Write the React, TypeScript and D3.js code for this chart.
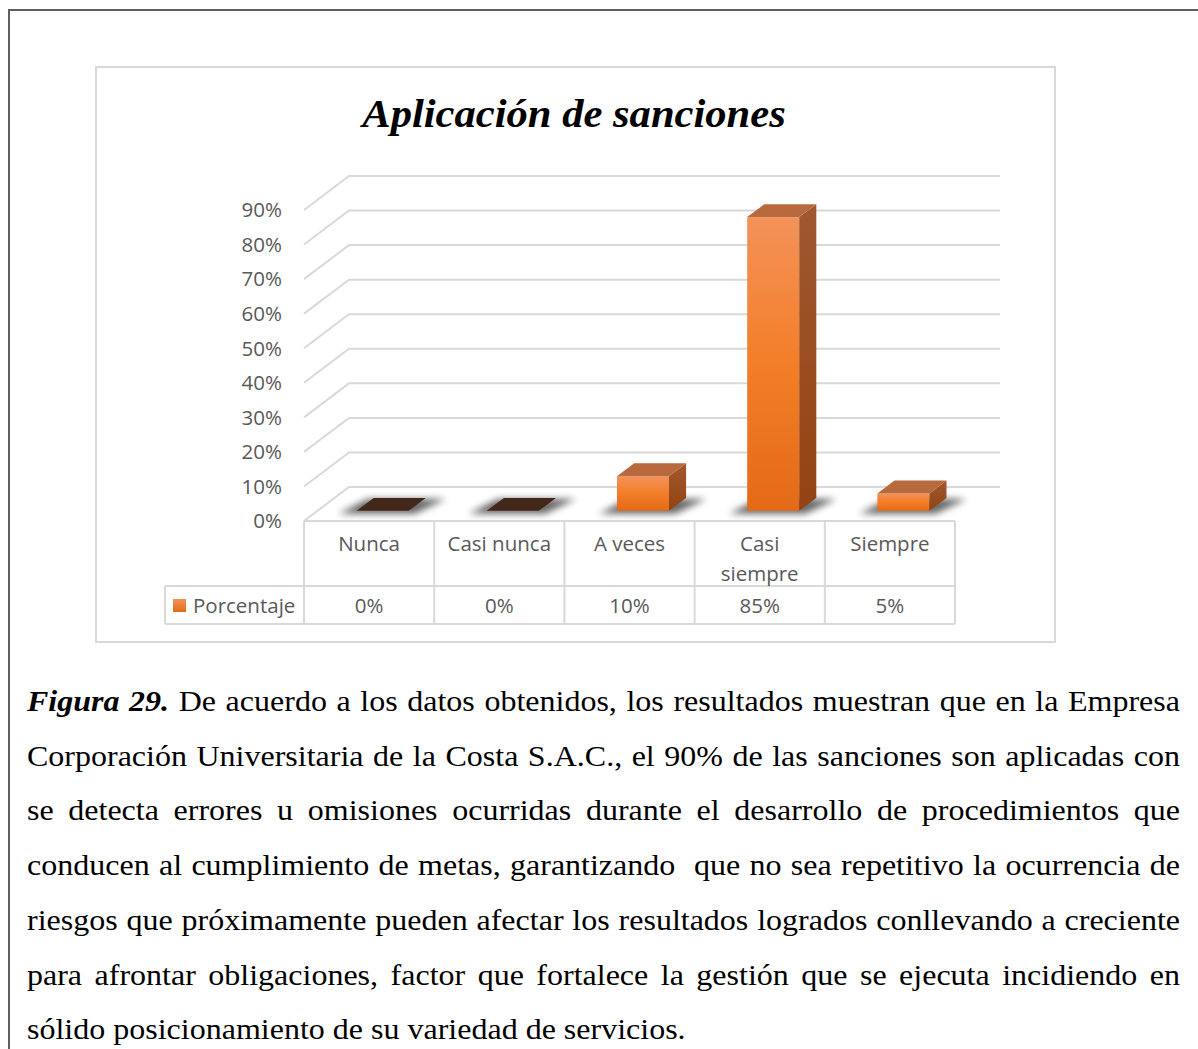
import { useEffect, useRef } from 'react';
import * as d3 from 'd3';

const W = 1198;
const H = 1049;

const CATEGORIES = ['Nunca', 'Casi nunca', 'A veces', 'Casi siempre', 'Siempre'];
const CATEGORY_LINES = [['Nunca'], ['Casi nunca'], ['A veces'], ['Casi', 'siempre'], ['Siempre']];
const PERCENTAGES = [0, 0, 0.1, 0.85, 0.05];
const VALUE_LABELS = ['0%', '0%', '10%', '85%', '5%'];
const Y_TICKS = [0, 0.1, 0.2, 0.3, 0.4, 0.5, 0.6, 0.7, 0.8, 0.9];
const SERIES_NAME = 'Porcentaje';
const TITLE = 'Aplicación de sanciones';
const CAPTION_LEAD = 'Figura 29.';
const CAPTION_LINES = [
  ' De acuerdo a los datos obtenidos, los resultados muestran que en la Empresa',
  'Corporación Universitaria de la Costa S.A.C., el 90% de las sanciones son aplicadas con',
  'se detecta errores u omisiones ocurridas durante el desarrollo de procedimientos que',
  'conducen al cumplimiento de metas, garantizando  que no sea repetitivo la ocurrencia de',
  'riesgos que próximamente pueden afectar los resultados logrados conllevando a creciente',
  'para afrontar obligaciones, factor que fortalece la gestión que se ejecuta incidiendo en',
  'sólido posicionamiento de su variedad de servicios.',
];

const SANS = '"Open Sans", "Noto Sans", sans-serif';
const SERIF = '"Liberation Serif", "DejaVu Serif", serif';
const GRID = '#d9d9d9';
const LABEL = '#595959';

export default function App() {
  const svgRef = useRef<SVGSVGElement>(null);

  useEffect(() => {
    const svg = d3.select(svgRef.current!);
    svg.selectAll('*').remove();

    // outer page frame + chart area
    svg.append('path').attr('d', `M9,${H} V10 H${W}`).attr('fill', 'none').attr('stroke', '#5f5f5f').attr('stroke-width', 2);
    svg.append('rect').attr('x', 96).attr('y', 67).attr('width', 959).attr('height', 575)
      .attr('fill', '#fff').attr('stroke', GRID).attr('stroke-width', 2);

    const defs = svg.append('defs');
    const front = defs.append('linearGradient').attr('id', 'barFront').attr('x1', 0).attr('y1', 0).attr('x2', 0).attr('y2', 1);
    front.append('stop').attr('offset', '0%').attr('stop-color', '#F39259');
    front.append('stop').attr('offset', '50%').attr('stop-color', '#F47E28');
    front.append('stop').attr('offset', '100%').attr('stop-color', '#E36A17');
    const side = defs.append('linearGradient').attr('id', 'barSide').attr('x1', 0).attr('y1', 0).attr('x2', 0).attr('y2', 1);
    side.append('stop').attr('offset', '0%').attr('stop-color', '#A0582F');
    side.append('stop').attr('offset', '100%').attr('stop-color', '#934312');
    const legendGrad = defs.append('linearGradient').attr('id', 'legendSq').attr('x1', 0).attr('y1', 0).attr('x2', 0).attr('y2', 1);
    legendGrad.append('stop').attr('offset', '0%').attr('stop-color', '#F39259');
    legendGrad.append('stop').attr('offset', '100%').attr('stop-color', '#E36A17');
    defs.append('filter').attr('id', 'soft').attr('x', '-50%').attr('y', '-100%').attr('width', '200%').attr('height', '300%')
      .append('feGaussianBlur').attr('stdDeviation', 3.5);

    // title (the source image is a little wider than the font)
    svg.append('text').attr('transform', 'translate(574,127) scale(1.065,1)').attr('text-anchor', 'middle')
      .attr('font-family', SERIF).attr('font-size', 40).attr('font-weight', 700).attr('font-style', 'italic')
      .attr('fill', '#000').text(TITLE);

    const x = d3.scaleBand<string>().domain(CATEGORIES).range([304, 955]);
    const y = d3.scaleLinear().domain([0, 0.9]).range([521, 210]);
    const depth = { dx: 45, dy: 34 };

    // 3D wall gridlines
    const wall = svg.append('g');
    Y_TICKS.forEach((t) => {
      const yf = y(t);
      wall.append('path')
        .attr('d', `M304,${yf} L${304 + depth.dx},${yf - depth.dy} L1000,${yf - depth.dy}`)
        .attr('fill', 'none').attr('stroke', GRID).attr('stroke-width', 2);
    });
    svg.append('g').selectAll('text').data(Y_TICKS).join('text')
      .attr('x', 282).attr('y', (t) => y(t)).attr('dy', '0.36em').attr('text-anchor', 'end')
      .attr('font-family', SANS).attr('font-size', 20.5).attr('fill', LABEL)
      .text((t) => `${Math.round(t * 100)}%`);

    // bars
    const f1 = 0.3, f2 = 0.68;
    const barW = 52;
    const ddx = (f2 - f1) * depth.dx, ddy = (f2 - f1) * depth.dy;
    const bars = svg.append('g');
    CATEGORIES.forEach((c, i) => {
      const v = PERCENTAGES[i];
      const cx = x(c)! + x.bandwidth() / 2 + f1 * depth.dx;
      const x0 = cx - barW / 2, x1 = cx + barW / 2;
      const yb = y(0) - f1 * depth.dy;
      const yt = yb - (y(0) - y(v));
      bars.append('polygon')
        .attr('points', `${x0 - 18},${yb + 3} ${x1 + 6},${yb + 3} ${x1 + ddx + 20},${yb - ddy + 1} ${x0 + ddx - 6},${yb - ddy + 1}`)
        .attr('fill', '#000').attr('opacity', 0.6).attr('filter', 'url(#soft)');
      if (v > 0) {
        bars.append('rect').attr('x', x0).attr('y', yt).attr('width', barW).attr('height', yb - yt).attr('fill', 'url(#barFront)');
        bars.append('polygon')
          .attr('points', `${x1},${yb} ${x1 + ddx},${yb - ddy} ${x1 + ddx},${yt - ddy} ${x1},${yt}`)
          .attr('fill', 'url(#barSide)');
        bars.append('polygon')
          .attr('points', `${x0},${yt} ${x1},${yt} ${x1 + ddx},${yt - ddy} ${x0 + ddx},${yt - ddy}`)
          .attr('fill', '#B8693E');
      } else {
        bars.append('polygon')
          .attr('points', `${x0},${yb} ${x1},${yb} ${x1 + ddx},${yb - ddy} ${x0 + ddx},${yb - ddy}`)
          .attr('fill', '#43271A');
      }
    });

    // data table
    const table = svg.append('g').attr('stroke', GRID).attr('stroke-width', 2).attr('fill', 'none');
    const edges = [304, ...CATEGORIES.map((c) => x(c)! + x.bandwidth())];
    table.append('path').attr('d', `M304,521 H955 M165,586 H955 M165,624 H955 M165,586 V624`);
    edges.forEach((e) => table.append('path').attr('d', `M${e},521 V624`));

    const labels = svg.append('g').attr('font-family', SANS).attr('font-size', 20.5).attr('fill', LABEL).attr('text-anchor', 'middle');
    CATEGORIES.forEach((c, i) => {
      const cx = x(c)! + x.bandwidth() / 2;
      CATEGORY_LINES[i].forEach((line, j) => {
        labels.append('text').attr('x', cx).attr('y', 551 + j * 30).text(line);
      });
      labels.append('text').attr('x', cx).attr('y', 613).text(VALUE_LABELS[i]);
    });
    svg.append('rect').attr('x', 173).attr('y', 599).attr('width', 13).attr('height', 13).attr('fill', 'url(#legendSq)');
    svg.append('text').attr('x', 193).attr('y', 613).attr('font-family', SANS).attr('font-size', 20.5).attr('fill', LABEL).text(SERIES_NAME);

    // caption, justified; glyphs stretched horizontally like the source scan
    const left = 27, right = 1180, lastLineEnd = 686;
    const cap = svg.append('g').attr('font-family', SERIF).attr('font-size', 29).attr('fill', '#000');
    const texts = CAPTION_LINES.map((line, i) => {
      const t = cap.append('text').attr('x', 0).attr('y', 0).style('white-space', 'pre');
      if (i === 0) {
        t.append('tspan').attr('font-weight', 700).attr('font-style', 'italic').text(CAPTION_LEAD);
      }
      t.append('tspan').text(line);
      return t;
    });
    const lastNatural = (texts[texts.length - 1].node() as SVGTextElement).getComputedTextLength();
    const sx = (lastLineEnd - left) / lastNatural;
    texts.forEach((t, i) => {
      t.attr('transform', `translate(${left},${711 + i * 54.7}) scale(${sx},1)`);
      if (i < texts.length - 1) {
        const natural = (t.node() as SVGTextElement).getComputedTextLength();
        const full = (i === 0 ? CAPTION_LEAD : '') + CAPTION_LINES[i];
        const spaces = (full.match(/ /g) || []).length;
        if (spaces > 0) t.attr('word-spacing', ((right - left) / sx - natural) / spaces);
      }
    });
  }, []);

  return (
    <div style={{ position: 'absolute', left: 0, top: 0, width: W, height: H, background: '#fff' }}>
      <svg ref={svgRef} width={W} height={H} style={{ display: 'block' }} />
    </div>
  );
}
